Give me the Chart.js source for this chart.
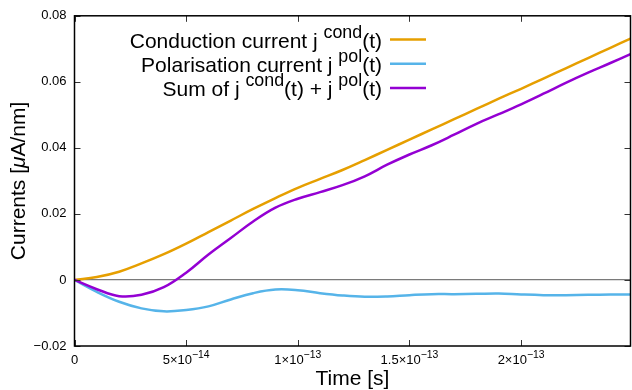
<!DOCTYPE html>
<html>
<head>
<meta charset="utf-8">
<script src="https://cdn.jsdelivr.net/npm/chart.js@4.4.0/dist/chart.umd.min.js"></script>
<style>
  html, body { margin: 0; padding: 0; background: #fff; }
  #wrap { width: 632px; height: 390px; }
</style>
</head>
<body>
<div id="wrap"><canvas id="chart"></canvas></div>
<script>
const FONT = '"Liberation Sans", Arial, Helvetica, sans-serif';

// time in seconds
const times = [0, 1e-14, 2e-14, 3e-14, 4e-14, 5e-14, 6e-14, 7e-14, 8e-14, 9e-14,
  1e-13, 1.1e-13, 1.2e-13, 1.3e-13, 1.4e-13, 1.5e-13, 1.6e-13, 1.7e-13, 1.8e-13, 1.9e-13,
  2e-13, 2.1e-13, 2.2e-13, 2.3e-13, 2.4e-13, 2.49e-13];

// currents in uA/nm
const condCurrent = [0, 0.0009, 0.0025, 0.0050, 0.0078, 0.0110, 0.0145, 0.0180, 0.0215, 0.0248,
  0.0279, 0.0306, 0.0333, 0.0363, 0.0394, 0.0425, 0.0456, 0.0487, 0.0518, 0.0549,
  0.0579, 0.0610, 0.0641, 0.0672, 0.0703, 0.0731];
const polCurrent = [0, -0.0036, -0.0066, -0.0086, -0.0095, -0.0091, -0.0080, -0.0059, -0.0040, -0.0029,
  -0.0031, -0.0040, -0.0047, -0.0051, -0.0050, -0.0046, -0.0043, -0.0043, -0.0042, -0.0041,
  -0.0044, -0.0046, -0.0046, -0.0045, -0.0044, -0.0044];
const sumCurrent = [0, -0.0028, -0.0049, -0.0045, -0.0022, 0.0022, 0.0077, 0.0127, 0.0177, 0.0219,
  0.0246, 0.0266, 0.0287, 0.0314, 0.0349, 0.0380, 0.0408, 0.0440, 0.0473, 0.0502,
  0.0532, 0.0564, 0.0597, 0.0628, 0.0657, 0.0684];

const seriesNames = ['Conduction current j ^{cond}(t)', 'Polarisation current j ^{pol}(t)', 'Sum of j ^{cond}(t) + j ^{pol}(t)'];
const seriesColors = ['#e69f00', '#56b4e9', '#9400d3'];

const xTicks = [0, 5e-14, 1e-13, 1.5e-13, 2e-13];
const xTickLabels = ['0', '5×10^{−14}', '1×10^{−13}', '1.5×10^{−13}', '2×10^{−13}'];

// split "a^{b}c" into plain / superscript pieces (gnuplot style)
function parts(s) {
  const out = [];
  const re = /\^\{([^}]*)\}/g;
  let last = 0, m;
  while ((m = re.exec(s))) {
    if (m.index > last) out.push({ t: s.slice(last, m.index), sup: false });
    out.push({ t: m[1], sup: true });
    last = re.lastIndex;
  }
  if (last < s.length) out.push({ t: s.slice(last), sup: false });
  return out;
}

function drawRich(ctx, s, x, y, size, align, supScale) {
  const supSize = size * (supScale || 0.8);
  const ps = parts(s);
  let w = 0;
  ps.forEach(p => {
    ctx.font = (p.sup ? supSize : size) + 'px ' + FONT;
    p.w = ctx.measureText(p.t).width;
    w += p.w;
  });
  let cx = align === 'right' ? x - w : align === 'center' ? x - w / 2 : x;
  ctx.textAlign = 'left';
  ctx.textBaseline = 'alphabetic';
  ps.forEach(p => {
    ctx.font = (p.sup ? supSize : size) + 'px ' + FONT;
    ctx.fillText(p.t, cx, p.sup ? y - size * 0.5 : y);
    cx += p.w;
  });
}

const gnuplotFrame = {
  id: 'gnuplotFrame',
  afterDraw(chart) {
    const { ctx, chartArea: a, scales: { x, y } } = chart;
    ctx.save();

    // inward ticks on all four sides
    ctx.strokeStyle = '#333';
    ctx.lineWidth = 1;
    ctx.beginPath();
    x.ticks.forEach(t => {
      const px = Math.round(x.getPixelForValue(t.value)) + 0.5;
      ctx.moveTo(px, a.bottom); ctx.lineTo(px, a.bottom - 6);
      ctx.moveTo(px, a.top); ctx.lineTo(px, a.top + 6);
    });
    y.ticks.forEach(t => {
      const py = Math.round(y.getPixelForValue(t.value)) + 0.5;
      ctx.moveTo(a.left, py); ctx.lineTo(a.left + 6, py);
      ctx.moveTo(a.right, py); ctx.lineTo(a.right - 6, py);
    });
    ctx.stroke();

    // border
    ctx.strokeStyle = '#000';
    ctx.lineWidth = 1.5;
    ctx.strokeRect(a.left, a.top, a.right - a.left, a.bottom - a.top);

    // x tick labels with superscript exponents
    ctx.fillStyle = '#000';
    xTicks.forEach((v, i) => {
      drawRich(ctx, xTickLabels[i], x.getPixelForValue(v), a.bottom + 18, 13, 'center');
    });

    // axis titles
    drawRich(ctx, 'Time [s]', (a.left + a.right) / 2, 385, 21, 'center');
    ctx.save();
    ctx.translate(25, (a.top + a.bottom) / 2);
    ctx.rotate(-Math.PI / 2);
    const pieces = [['Currents [', ''], ['μ', 'italic '], ['A/nm]', '']];
    let tw = 0;
    pieces.forEach(p => { ctx.font = p[1] + '21px ' + FONT; p.w = ctx.measureText(p[0]).width; tw += p.w; });
    let cx = -tw / 2;
    ctx.textAlign = 'left';
    pieces.forEach(p => { ctx.font = p[1] + '21px ' + FONT; ctx.fillText(p[0], cx, 0); cx += p.w; });
    ctx.restore();

    // key (legend)
    chart.data.datasets.forEach((ds, i) => {
      const rowY = 39.5 + i * 24.2;
      ctx.fillStyle = '#000';
      drawRich(ctx, seriesNames[i], 382, rowY + 8.5, 21, 'right', 0.85);
      ctx.strokeStyle = ds.borderColor;
      ctx.lineWidth = 2.5;
      ctx.beginPath();
      ctx.moveTo(390, rowY);
      ctx.lineTo(426, rowY);
      ctx.stroke();
    });

    ctx.restore();
  }
};

const series = [condCurrent, polCurrent, sumCurrent];

new Chart(document.getElementById('chart'), {
  type: 'line',
  data: {
    datasets: series.map((vals, i) => ({
      label: seriesNames[i],
      data: times.map((t, k) => ({ x: t, y: vals[k] })),
      borderColor: seriesColors[i],
      borderWidth: 2.5,
      pointRadius: 0,
      fill: false,
      tension: 0.4,
      order: 3 - i
    }))
  },
  options: {
    responsive: true,
    maintainAspectRatio: false,
    animation: false,
    layout: { padding: { top: 12, right: 1.5, left: 0, bottom: 0 } },
    plugins: { legend: { display: false }, tooltip: { enabled: false } },
    scales: {
      x: {
        type: 'linear',
        min: 0,
        max: 2.49e-13,
        afterBuildTicks: s => { s.ticks = xTicks.map(v => ({ value: v })); },
        ticks: { display: false },
        grid: { display: false },
        border: { display: false },
        afterFit: s => { s.height = 44; }
      },
      y: {
        min: -0.02,
        max: 0.08,
        ticks: {
          stepSize: 0.02,
          padding: 8,
          color: '#000',
          font: { family: FONT, size: 13 },
          callback: v => Math.abs(v) < 1e-9 ? '0' : (v < 0 ? '−' : '') + Math.abs(v).toFixed(2)
        },
        grid: {
          drawTicks: false,
          lineWidth: 1.2,
          color: c => (c.tick && Math.abs(c.tick.value) < 1e-9) ? '#7a7a7a' : 'rgba(0,0,0,0)'
        },
        border: { display: false },
        afterFit: s => { s.width = 74.5; }
      }
    }
  },
  plugins: [gnuplotFrame]
});
</script>
</body>
</html>
